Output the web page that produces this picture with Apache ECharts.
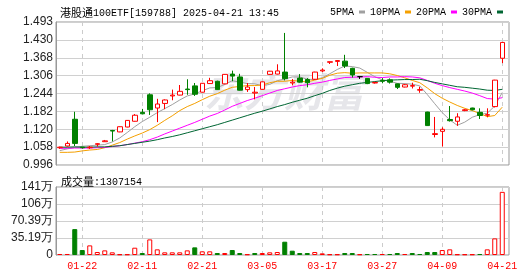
<!DOCTYPE html>
<html><head><meta charset="utf-8">
<script src="https://cdn.jsdelivr.net/npm/echarts@6/dist/echarts.min.js"></script>
<style>html,body{margin:0;padding:0;background:#fff}#c{width:530px;height:276px}</style>
</head><body><div id="c"></div>
<script>
const dates = ['01-17','01-20','01-21','01-22','01-23','01-24','01-27','02-05','02-06','02-07','02-10','02-11','02-12','02-13','02-14','02-17','02-18','02-19','02-20','02-21','02-24','02-25','02-26','02-27','02-28','03-03','03-04','03-05','03-06','03-07','03-10','03-11','03-12','03-13','03-14','03-17','03-18','03-19','03-20','03-21','03-24','03-25','03-26','03-27','03-28','03-31','04-01','04-02','04-03','04-07','04-08','04-09','04-10','04-11','04-14','04-15','04-16','04-17','04-18','04-21'];
const open  = [1.056,1.062,1.155,1.058,1.056,1.068,1.077,1.116,1.111,1.128,1.148,1.179,1.240,1.194,1.210,1.236,1.239,1.260,1.271,1.249,1.279,1.287,1.278,1.312,1.302,1.258,1.246,1.259,1.311,1.312,1.319,1.281,1.298,1.293,1.294,1.323,1.353,1.356,1.357,1.332,1.303,1.297,1.281,1.290,1.292,1.278,1.267,1.270,1.256,1.180,1.102,1.113,1.154,1.148,1.185,1.194,1.179,1.169,1.199,1.367];
const close = [1.058,1.071,1.071,1.056,1.058,1.070,1.080,1.114,1.129,1.151,1.169,1.174,1.188,1.208,1.222,1.239,1.252,1.258,1.242,1.280,1.289,1.258,1.311,1.305,1.256,1.267,1.249,1.285,1.322,1.323,1.296,1.284,1.284,1.282,1.319,1.326,1.355,1.359,1.340,1.309,1.303,1.279,1.283,1.287,1.284,1.266,1.275,1.272,1.258,1.133,1.105,1.120,1.150,1.163,1.188,1.188,1.168,1.171,1.291,1.422];
const low   = [1.052,1.060,1.062,1.053,1.052,1.060,1.076,1.078,1.110,1.127,1.147,1.172,1.170,1.145,1.190,1.221,1.238,1.240,1.236,1.248,1.278,1.257,1.277,1.287,1.255,1.250,1.224,1.258,1.310,1.311,1.290,1.273,1.282,1.266,1.292,1.319,1.347,1.340,1.333,1.300,1.295,1.277,1.279,1.280,1.279,1.260,1.266,1.262,1.247,1.132,1.092,1.060,1.147,1.132,1.183,1.186,1.156,1.162,1.196,1.350];
const high  = [1.060,1.078,1.181,1.059,1.062,1.072,1.083,1.118,1.130,1.152,1.173,1.191,1.245,1.226,1.224,1.258,1.274,1.294,1.281,1.281,1.299,1.289,1.312,1.324,1.313,1.281,1.267,1.286,1.323,1.346,1.455,1.295,1.312,1.298,1.320,1.332,1.355,1.360,1.379,1.334,1.303,1.298,1.285,1.298,1.297,1.279,1.278,1.282,1.268,1.181,1.163,1.127,1.201,1.176,1.191,1.195,1.193,1.193,1.292,1.423];
const ma5  = [1.046,1.052,1.057,1.061,1.063,1.065,1.067,1.076,1.090,1.109,1.129,1.147,1.162,1.178,1.192,1.206,1.222,1.236,1.243,1.254,1.264,1.265,1.276,1.289,1.284,1.279,1.278,1.272,1.276,1.289,1.295,1.302,1.302,1.294,1.293,1.299,1.313,1.328,1.340,1.338,1.333,1.318,1.303,1.292,1.287,1.280,1.279,1.277,1.271,1.241,1.209,1.178,1.153,1.134,1.145,1.162,1.171,1.176,1.201,1.248];
const ma10 = [1.040,1.040,1.041,1.045,1.048,1.050,1.056,1.065,1.074,1.086,1.097,1.107,1.119,1.134,1.151,1.167,1.185,1.199,1.210,1.223,1.235,1.244,1.256,1.266,1.269,1.272,1.272,1.274,1.282,1.287,1.287,1.290,1.287,1.285,1.291,1.297,1.308,1.315,1.317,1.315,1.316,1.316,1.316,1.316,1.313,1.307,1.299,1.290,1.282,1.264,1.244,1.228,1.215,1.203,1.193,1.185,1.175,1.164,1.168,1.197];
const ma20 = [1.054,1.054,1.055,1.055,1.055,1.056,1.057,1.060,1.063,1.067,1.072,1.077,1.084,1.093,1.104,1.114,1.124,1.134,1.144,1.155,1.166,1.175,1.187,1.200,1.210,1.220,1.228,1.237,1.246,1.255,1.261,1.267,1.272,1.275,1.280,1.284,1.290,1.295,1.300,1.301,1.302,1.303,1.301,1.300,1.302,1.302,1.303,1.302,1.299,1.290,1.280,1.272,1.265,1.259,1.253,1.246,1.237,1.227,1.225,1.230];
const ma30 = [1.058,1.058,1.059,1.058,1.058,1.059,1.059,1.061,1.063,1.067,1.071,1.075,1.079,1.084,1.090,1.095,1.101,1.108,1.115,1.122,1.129,1.136,1.144,1.152,1.160,1.168,1.176,1.183,1.191,1.199,1.206,1.214,1.221,1.228,1.237,1.245,1.255,1.263,1.270,1.275,1.280,1.283,1.286,1.289,1.291,1.292,1.293,1.293,1.294,1.289,1.283,1.278,1.273,1.268,1.266,1.263,1.260,1.256,1.255,1.259];
const volume = [21000,21000,536000,103000,199000,62000,96000,55000,14000,14000,151000,41000,323000,117000,55000,55000,55000,96000,158000,76000,76000,41000,41000,103000,41000,14000,41000,41000,55000,62000,275000,89000,41000,41000,62000,34000,14000,14000,41000,41000,14000,21000,21000,21000,21000,41000,21000,41000,21000,62000,62000,103000,117000,14000,14000,14000,21000,117000,344000,1307154];
const volUp = [1,1,0,0,1,1,1,1,1,1,1,0,1,1,1,1,1,1,0,1,1,0,1,0,0,1,0,1,1,1,0,0,0,0,1,1,1,1,0,0,1,0,0,1,0,0,1,0,0,0,0,1,1,1,1,1,0,1,1,1];
const priceTicks = ['0.996','1.058','1.120','1.182','1.244','1.306','1.368','1.430','1.493'];
const volTicks = ['0','35.19万','70.39万','106万','141万'];
const priceMin = 0.996, priceMax = 1.493;
const volMax = 1407700;
const lastVolume = 1307154;

const RED = '#ff0000', GREEN = '#008000';
const candle = dates.map((d, i) => [open[i], close[i], low[i], high[i]]);
const volData = volume.map((v, i) => ({
  value: v,
  itemStyle: volUp[i] ? {color: '#fff', borderColor: RED, borderWidth: 1} : {color: GREEN, borderColor: GREEN, borderWidth: 1}
}));
const pInt = (priceMax - priceMin) / (priceTicks.length - 1);
const vInt = volMax / (volTicks.length - 1);
const labelEvery = (i) => i % 8 === 3;
const mono = 'Liberation Mono';
const sans = 'Liberation Sans';
const cjk = 'Noto Sans CJK SC';
const richStyle = {
  c: {fontFamily: cjk, fontSize: 11, fontWeight: 'normal', color: '#000', lineHeight: 14, verticalAlign: 'middle'},
  a: {fontFamily: mono, fontSize: 10, fontWeight: 'normal', color: '#000', lineHeight: 14, verticalAlign: 'middle'}
};

const chart = echarts.init(document.getElementById('c'));
const maLine = (name, data, color) => ({
  name, type: 'line', data, xAxisIndex: 0, yAxisIndex: 0, showSymbol: false, symbol: 'none',
  color, lineStyle: {color, width: 1}, z: 2, silent: true
});
chart.setOption({
  animation: false,
  backgroundColor: '#fff',
  title: [
    {text: '{c|港股通}{a|100ETF[159788] 2025-04-21 13:45}', left: 55, top: 1,
     textStyle: {fontWeight: 'normal', rich: richStyle}},
    {text: '{c|成交量}{a|:' + lastVolume + '}', left: 56, top: 170,
     textStyle: {fontWeight: 'normal', rich: richStyle}}
  ],
  legend: {
    left: 325, top: 2, align: 'right', icon: 'rect', itemWidth: 6, itemHeight: 3, itemGap: 5,
    selectedMode: false, textStyle: {fontFamily: mono, fontSize: 10, color: '#000'},
    data: ['5PMA', '10PMA', '20PMA', '30PMA']
  },
  graphic: [{
    type: 'text', left: 204, top: 72, z: -10, silent: true,
    style: {text: '东方财富', font: 'italic bold 40px "Noto Sans CJK SC"', fill: '#e6e6ea'}
  }],
  grid: [
    {left: 56, top: 22, width: 450, height: 143},
    {left: 56, top: 22, width: 453, height: 143, show: true, borderColor: '#999', borderWidth: 1, backgroundColor: 'transparent'},
    {left: 56, top: 187, width: 450, height: 68},
    {left: 56, top: 187, width: 453, height: 68, show: true, borderColor: '#999', borderWidth: 1, backgroundColor: 'transparent'}
  ],
  xAxis: [
    {gridIndex: 0, type: 'category', data: dates, boundaryGap: true,
     axisLine: {show: false}, axisTick: {show: false}, axisLabel: {show: false},
     splitLine: {show: true, interval: labelEvery, alignWithLabel: true, lineStyle: {color: '#cccccc', type: [4, 4]}}},
    {gridIndex: 1, type: 'value', show: false, min: 0, max: 1},
    {gridIndex: 2, type: 'category', data: dates, boundaryGap: true,
     axisLine: {show: false}, axisTick: {show: false},
     axisLabel: {interval: labelEvery, color: RED, fontFamily: mono, fontSize: 10, margin: 6},
     splitLine: {show: true, interval: labelEvery, alignWithLabel: true, lineStyle: {color: '#cccccc', type: [4, 4]}}},
    {gridIndex: 3, type: 'value', show: false, min: 0, max: 1}
  ],
  yAxis: [
    {gridIndex: 0, type: 'value', min: priceMin, max: priceMax, show: false, splitLine: {show: false}},
    {gridIndex: 1, type: 'value', min: priceMin, max: priceMax, interval: pInt,
     axisLine: {show: true, lineStyle: {color: '#999'}}, axisTick: {show: false},
     splitLine: {show: true, lineStyle: {color: '#d0d0d0'}},
     axisLabel: {margin: 3, color: '#222', fontFamily: sans, fontSize: 12,
                 formatter: (v) => priceTicks[Math.round((v - priceMin) / pInt)]}},
    {gridIndex: 2, type: 'value', min: 0, max: volMax, show: false, splitLine: {show: false}},
    {gridIndex: 3, type: 'value', min: 0, max: volMax, interval: vInt,
     axisLine: {show: true, lineStyle: {color: '#999'}}, axisTick: {show: false},
     splitLine: {show: true, lineStyle: {color: '#d0d0d0'}},
     axisLabel: {margin: 3, color: '#222', fontFamily: sans, fontSize: 12,
                 formatter: (v) => volTicks[Math.round(v / vInt)]}}
  ],
  series: [
    maLine('5PMA', ma5, '#a0a0a0'),
    maLine('10PMA', ma10, '#f5a000'),
    maLine('20PMA', ma20, '#ff00ff'),
    maLine('30PMA', ma30, '#006633'),
    {name: 'K', type: 'candlestick', xAxisIndex: 0, yAxisIndex: 0, data: candle, barWidth: 5, z: 5,
     itemStyle: {color: '#fff', color0: GREEN, borderColor: RED, borderColor0: GREEN, borderColorDoji: '#000', borderWidth: 1}},
    {name: 'VOL', type: 'bar', xAxisIndex: 2, yAxisIndex: 2, data: volData, barWidth: 5, z: 5}
  ]
});
</script></body></html>
